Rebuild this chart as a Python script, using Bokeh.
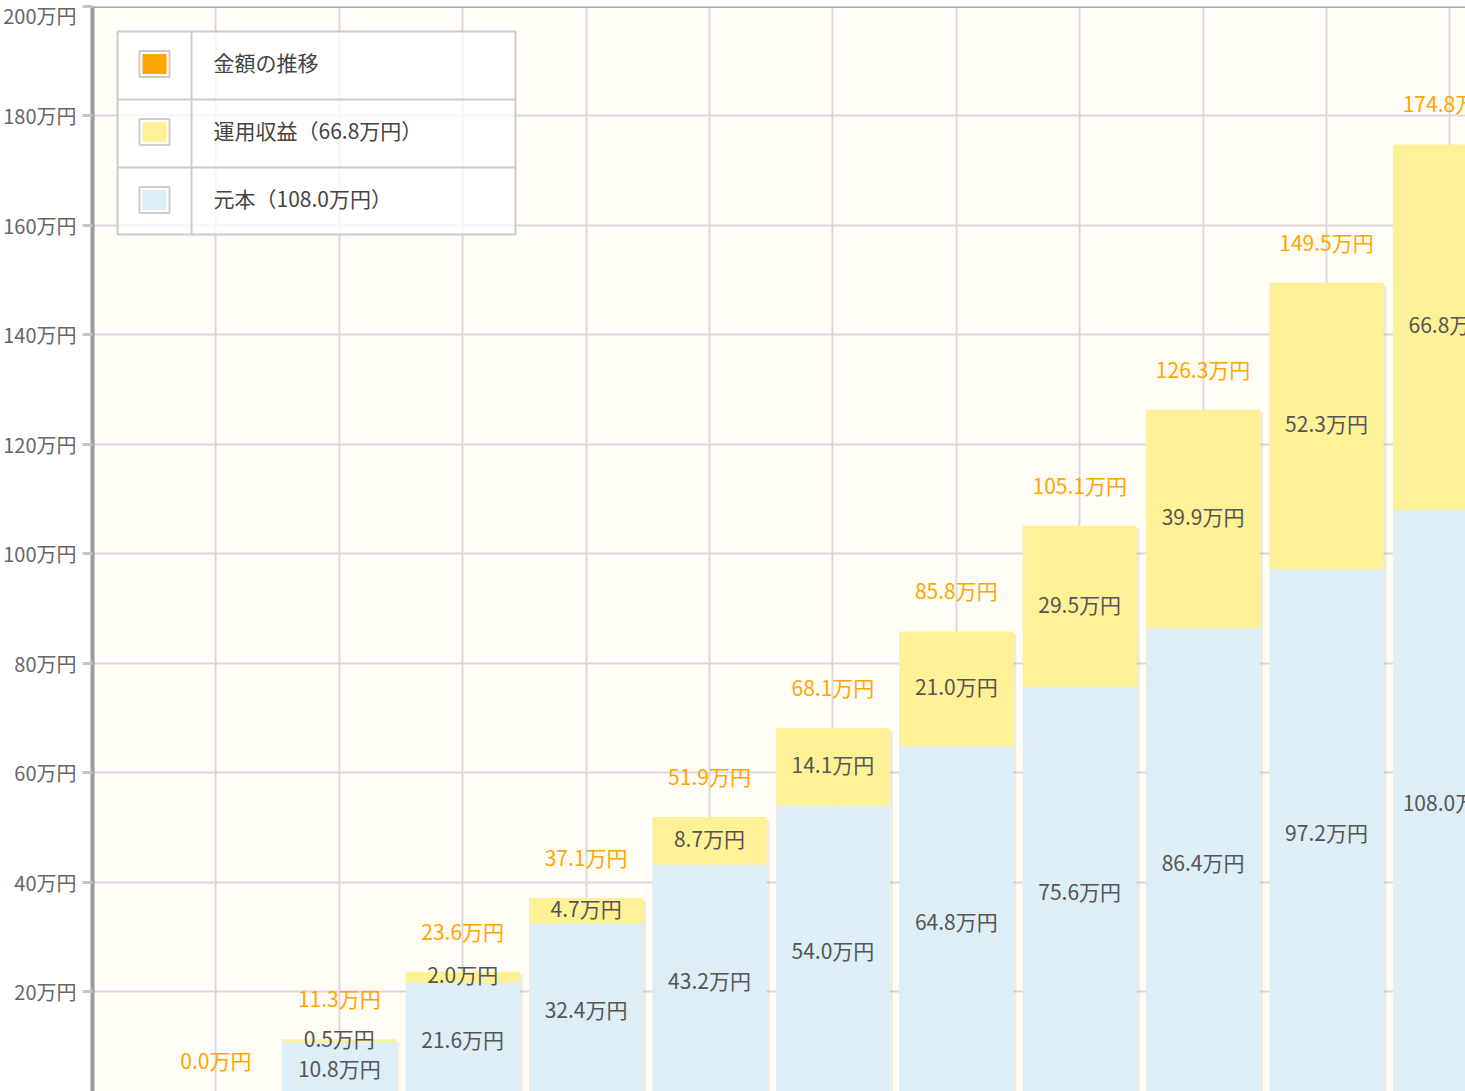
from bokeh.plotting import figure
from bokeh.models import Range1d, FixedTicker, Span, ColumnDataSource
from bokeh.core.properties import value
from bokeh.embed import file_html
from bokeh.resources import INLINE

# ---------------- data ----------------
years = [0, 1, 2, 3, 4, 5, 6, 7, 8, 9, 10]
principal = [0.0, 10.8, 21.6, 32.4, 43.2, 54.0, 64.8, 75.6, 86.4, 97.2, 108.0]
earnings = [0.0, 0.5, 2.0, 4.7, 8.7, 14.1, 21.0, 29.5, 39.9, 52.3, 66.8]
totals = [0.0, 11.3, 23.6, 37.1, 51.9, 68.1, 85.8, 105.1, 126.3, 149.5, 174.8]
y_ticks = [0, 20, 40, 60, 80, 100, 120, 140, 160, 180, 200]
y_tick_labels = ["0万円", "20万円", "40万円", "60万円", "80万円", "100万円",
                 "120万円", "140万円", "160万円", "180万円", "200万円"]
legend_labels = ["金額の推移", "運用収益（66.8万円）", "元本（108.0万円）"]
legend_colors = ["#ffa500", "#fff196", "#ddeef6"]

# ---------------- layout ----------------
FONT = "Noto Sans CJK JP"
W, H = 1465, 1091
BL = 92           # left border (frame starts here)
BT = 6            # top border
PX_X = 123.4      # pixels per year
PX_Y = 5.4725     # pixels per 万円
frame_w = W - BL
frame_h = H - BT
BAR_W = 0.925

x_range = Range1d(-1.0, -1.0 + frame_w / PX_X)
y_range = Range1d(200 - frame_h / PX_Y, 200)

p = figure(width=W, height=H, x_range=x_range, y_range=y_range,
           output_backend="svg", toolbar_location=None, x_axis_location=None,
           min_border_left=BL, min_border_right=0, min_border_top=BT, min_border_bottom=0,
           background_fill_color="#fffdf5", border_fill_color="white",
           outline_line_color=None)

# axis
yax = p.yaxis[0]
yax.ticker = FixedTicker(ticks=y_ticks)
yax.major_label_overrides = dict(zip(y_ticks, y_tick_labels))
yax.axis_line_color = "#9c9c9c"
yax.axis_line_width = 4
yax.major_tick_line_color = "#c4c4c4"
yax.major_tick_line_width = 3
yax.major_tick_out = 10
yax.major_tick_in = 0
yax.minor_tick_line_color = None
yax.major_label_standoff = 6
yax.major_label_text_font = FONT
yax.major_label_text_font_size = "20px"
yax.major_label_text_color = "#666666"

# grids
p.ygrid.ticker = FixedTicker(ticks=y_ticks)
p.xgrid.ticker = FixedTicker(ticks=years)
for g in (p.xgrid, p.ygrid):
    g.grid_line_color = "#d9d9d9"
    g.grid_line_width = 2

# top border
p.add_layout(Span(location=200, dimension="width", line_color="#a8a8a8", line_width=3))

# ---------------- bars ----------------
src = ColumnDataSource(dict(
    x=years, p=principal, e=earnings, t=totals,
    xs=[x + 3.0 / PX_X for x in years],
    ts=[t - 0.5 if t > 0 else 0 for t in totals],
))
p.vbar(x="xs", bottom=0, top="ts", width=BAR_W, source=src,
       fill_color="black", fill_alpha=0.07, line_color=None)
p.vbar(x="x", bottom=0, top="p", width=BAR_W, source=src,
       fill_color="#ddeef6", line_color=None)
p.vbar(x="x", bottom="p", top="t", width=BAR_W, source=src,
       fill_color="#fff196", line_color=None)

# ---------------- labels ----------------
idx = [i for i in range(len(years)) if principal[i] > 0]
p_src = ColumnDataSource(dict(
    x=[years[i] for i in idx],
    y=[principal[i] / 2 for i in idx],
    text=[f"{principal[i]:.1f}万円" for i in idx],
))
e_src = ColumnDataSource(dict(
    x=[years[i] for i in idx],
    y=[(principal[i] + totals[i]) / 2 for i in idx],
    text=[f"{earnings[i]:.1f}万円" for i in idx],
))
t_src = ColumnDataSource(dict(
    x=years,
    y=[t + 38.0 / PX_Y for t in totals],
    text=[f"{t:.1f}万円" for t in totals],
))
for s, col in ((p_src, "#555555"), (e_src, "#555555"), (t_src, "#ffa500")):
    p.text(x="x", y="y", text="text", source=s, text_align="center",
           text_baseline="middle", text_font=value(FONT), y_offset=-3,
           text_font_size="21px", text_color=col)

# ---------------- legend (table style) ----------------
def dx(px):
    return -1.0 + (px - BL) / PX_X

def dy(py):
    return 200 - (py - BT) / PX_Y

p.quad(left=[dx(117)], right=[dx(515)], top=[dy(31)], bottom=[dy(234)],
       fill_color="white", fill_alpha=0.75, line_color="#cccccc", line_width=2)
p.segment(x0=[dx(117), dx(117), dx(191)], y0=[dy(99), dy(167), dy(31)],
          x1=[dx(515), dx(515), dx(191)], y1=[dy(99), dy(167), dy(234)],
          line_color="#cccccc", line_width=2)
row_c = [63.5, 131.5, 199.5]
p.quad(left=[dx(139)] * 3, right=[dx(169)] * 3,
       top=[dy(c - 13) for c in row_c], bottom=[dy(c + 13) for c in row_c],
       fill_color="white", line_color="#cccccc", line_width=2)
p.quad(left=[dx(142)] * 3, right=[dx(166)] * 3,
       top=[dy(c - 10) for c in row_c], bottom=[dy(c + 10) for c in row_c],
       fill_color=legend_colors, line_color=None)
p.text(x=[dx(213)] * 3, y=[dy(c) for c in row_c], text=legend_labels,
       text_align="left", text_baseline="middle", text_font=value(FONT),
       y_offset=-2, text_font_size="21px", text_color="#444444")

open("out.html", "w").write(file_html(p, INLINE))
